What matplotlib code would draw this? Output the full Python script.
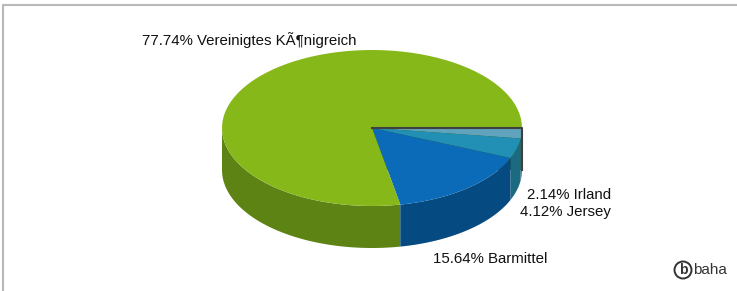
import matplotlib.pyplot as plt
from matplotlib.patches import Polygon, Circle
import numpy as np

plt.rcParams['font.family'] = ['Liberation Sans', 'DejaVu Sans']

# data (clockwise from 3 o'clock)
labels = ['Irland', 'Jersey', 'Barmittel', 'Vereinigtes KÃ¶nigreich']
values = [2.14, 4.12, 15.64, 77.74]
top_colors = ['#5fa3bd', '#2190b4', '#0b6bb8', '#86b81a']
side_colors = ['#3f7f95', '#1b6a80', '#064a82', '#5d8314']

# geometry in pixels
cx, cy = 372, 128
rx, ry = 150, 78
depth = 42

fig = plt.figure(figsize=(7.37, 2.91), dpi=100)
ax = fig.add_axes([0, 0, 1, 1])
ax.set_xlim(0, 737)
ax.set_ylim(291, 0)
ax.axis('off')

# border
ax.plot([3, 3, 737], [291, 5, 5], color='#b8b8b8', lw=1.5)


def arc(a, b, dy=0, n=80):
    t = np.linspace(a, b, n)
    return np.column_stack([cx + rx * np.cos(t), cy + ry * np.sin(t) + dy])


total = sum(values)
bounds = np.concatenate([[0], np.cumsum(values)]) / total * 2 * np.pi

# cut face at 0 deg (green slice end)
ax.add_patch(Polygon([[cx, cy], [cx + rx, cy], [cx + rx, cy + depth], [cx, cy + depth]],
                     closed=True, fc='#3e5a10', ec='none', zorder=1))

# sides, only lower half visible
order = sorted(range(len(values)), key=lambda i: -abs((bounds[i] + bounds[i + 1]) / 2 - np.pi / 2))
for i in order:
    a = max(bounds[i], 0)
    b = min(bounds[i + 1], np.pi)
    if b <= a:
        continue
    top = arc(a, b)
    bot = arc(a, b, depth)[::-1]
    ax.add_patch(Polygon(np.vstack([top, bot]), closed=True, fc=side_colors[i], ec='none', zorder=2))

# tops
for i in range(len(values)):
    pts = np.vstack([[cx, cy], arc(bounds[i], bounds[i + 1])])
    ax.add_patch(Polygon(pts, closed=True, fc=top_colors[i], ec='none', zorder=3))

# outline of cut face
ax.plot([cx, cx + rx, cx + rx], [cy, cy, cy + depth], color='#404040', lw=1.5, zorder=4)

# labels
fs = 10.8
ax.text(142, 40, f'{values[3]:.2f}% {labels[3]}', fontsize=fs, va='center', ha='left', color='#111111')
ax.text(611, 195, f'{values[0]:.2f}% {labels[0]}', fontsize=fs, va='center', ha='right', color='#111111')
ax.text(611, 212, f'{values[1]:.2f}% {labels[1]}', fontsize=fs, va='center', ha='right', color='#111111')
ax.text(433, 259, f'{values[2]:.2f}% {labels[2]}', fontsize=fs, va='center', ha='left', color='#111111')

# logo
ax.add_patch(Circle((683, 270), 8.5, fc='none', ec='#333333', lw=1.4))
ax.text(683, 270, 'b', fontsize=10, fontweight='bold', ha='center', va='center', color='#333333')
ax.text(693, 270, 'baha', fontsize=11, ha='left', va='center', color='#333333')

fig.savefig('out.png', dpi=100)
